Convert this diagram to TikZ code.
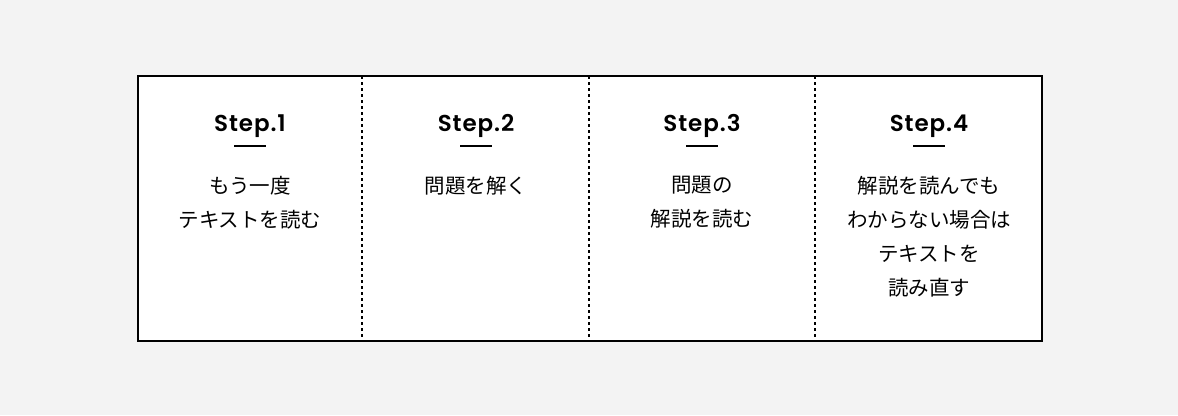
\documentclass[tikz,border=0pt]{standalone}
\usepackage{fontspec}
\setmainfont{Noto Sans CJK JP}
\newfontfamily\titlefont{Poppins}[BoldFont={* SemiBold},LetterSpace=4]
\begin{document}
\begin{tikzpicture}[x=1pt,y=-1pt,
  ttl/.style={font=\titlefont\bfseries\fontsize{23}{23}\selectfont},
  body/.style={font=\fontsize{20.5}{33.8}\selectfont,align=center,anchor=north},
  divider/.style={line width=1.8pt,dash pattern=on 3pt off 3pt}]
\fill[fill={rgb,255:red,243;green,243;blue,243}] (0,0) rectangle (1178,415);
\useasboundingbox (0,0) rectangle (1178,415);
\fill[white] (138,76) rectangle (1042,341);
\foreach \x in {362,589,815} \draw[divider] (\x,76) -- (\x,341);
\draw[line width=2pt] (138,76) rectangle (1042,341);
\foreach \i/\c in {1/250,2/476,3/702,4/929}{
  \node[ttl] (t\i) at (\c,126) {Step.\i};
  \draw[line width=1.6pt] (\c-16,146) -- (\c+16,146);
}
\node[body] (b1) at (250,173) {もう一度\\テキストを読む};
\node[body] (b2) at (476,173) {問題を解く};
\node[body] (b3) at (702,173) {問題の\\解説を読む};
\node[body] (b4) at (929,173) {解説を読んでも\\わからない場合は\\テキストを\\読み直す};
\end{tikzpicture}
\end{document}
